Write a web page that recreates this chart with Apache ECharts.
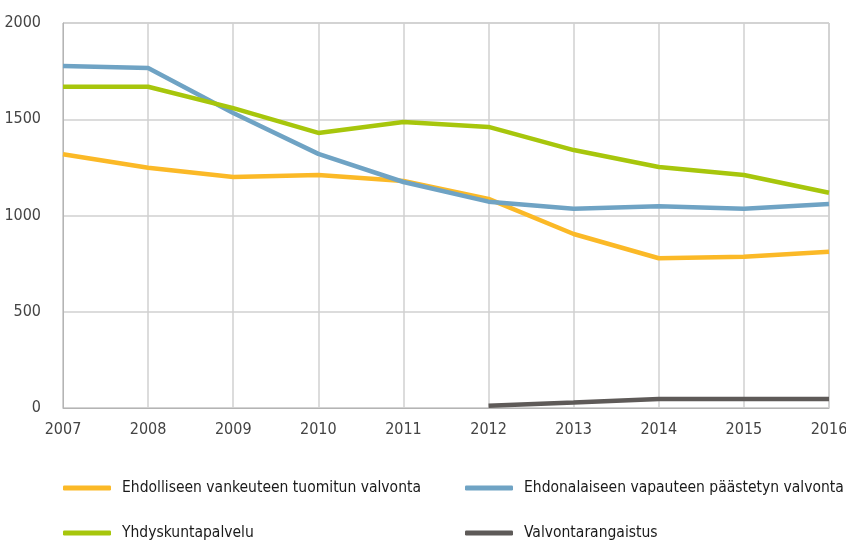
<!DOCTYPE html>
<html>
<head>
<meta charset="utf-8">
<script src="https://cdn.jsdelivr.net/npm/echarts@6/dist/echarts.min.js"></script>
<style>html,body{margin:0;padding:0;background:#fff}#c{width:846px;height:546px}</style>
</head>
<body>
<div id="c"></div>
<script>
const years = ['2007','2008','2009','2010','2011','2012','2013','2014','2015','2016'];
const seriesNames = [
  'Ehdolliseen vankeuteen tuomitun valvonta',
  'Ehdonalaiseen vapauteen päästetyn valvonta',
  'Yhdyskuntapalvelu',
  'Valvontarangaistus'
];
const ehdollinen = [1318, 1248, 1200, 1210, 1179, 1086, 904, 778, 786, 812];
const ehdonalainen = [1777, 1766, 1532, 1320, 1174, 1072, 1035, 1048, 1035, 1060];
const yhdyskunta = [1669, 1669, 1558, 1429, 1486, 1460, 1340, 1252, 1210, 1118];
const valvonta = [null, null, null, null, null, 12, 28, 47, 47, 47];
const yTicks = [0, 500, 1000, 1500, 2000];

const colors = ['#fbb927', '#6fa3c4', '#a7c60c', '#5e5a58'];
const FONT = "'DejaVu Sans Condensed', 'Liberation Sans Narrow', sans-serif";
const data = [ehdollinen, ehdonalainen, yhdyskunta, valvonta];

const legendPos = [
  {left: 63, top: 480},
  {left: 465, top: 480},
  {left: 63, top: 525},
  {left: 465, top: 525}
];

const chart = echarts.init(document.getElementById('c'), null, {renderer: 'canvas'});
chart.setOption({
  animation: false,
  backgroundColor: '#fff',
  grid: {left: 63, right: 17, top: 23, bottom: 138, show: true, borderColor: '#b4b4b4', borderWidth: 1,
    outerBoundsMode: 'none', containLabel: false},
  legend: seriesNames.map((n, i) => ({
    data: [n],
    left: legendPos[i].left,
    top: legendPos[i].top,
    icon: 'roundRect',
    itemWidth: 48,
    itemHeight: 5,
    itemGap: 0,
    textStyle: {fontFamily: FONT, fontSize: 15.5, color: '#1a1a1a', padding: [0, 0, 0, 6]},
    padding: 0
  })),
  xAxis: {
    type: 'category',
    data: years,
    boundaryGap: false,
    axisLine: {lineStyle: {color: '#b4b4b4', width: 1}},
    axisTick: {show: false},
    splitLine: {show: true, lineStyle: {color: '#d0d0d0', width: 1.5}},
    axisLabel: {fontFamily: FONT, fontSize: 16, color: '#444', margin: 14}
  },
  yAxis: {
    type: 'value',
    min: 0, max: 2000, interval: 500,
    axisLine: {show: true, lineStyle: {color: '#b4b4b4', width: 1}},
    axisTick: {show: false},
    splitLine: {lineStyle: {color: '#d0d0d0', width: 1.5}},
    axisLabel: {fontFamily: FONT, fontSize: 16, color: '#444', margin: 22,
      formatter: v => yTicks.includes(v) ? String(v) : ''}
  },
  series: seriesNames.map((n, i) => ({
    name: n,
    type: 'line',
    data: data[i],
    symbol: 'none',
    smooth: false,
    lineStyle: {color: colors[i], width: 4.5},
    itemStyle: {color: colors[i]},
    z: 3 + i
  }))
});
</script>
</body>
</html>
